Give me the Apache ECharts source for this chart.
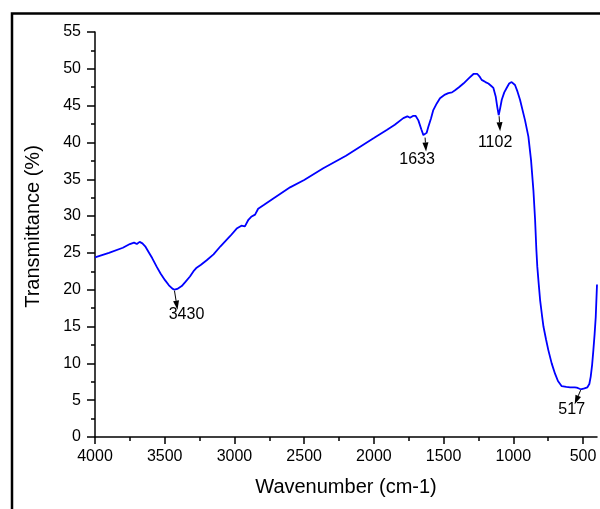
<!DOCTYPE html>
<html>
<head>
<meta charset="utf-8">
<script src="https://cdn.jsdelivr.net/npm/echarts@6/dist/echarts.min.js"></script>
<style>
  html, body { margin: 0; padding: 0; background: #fff; }
  #chart { width: 600px; height: 509px; }
</style>
</head>
<body>
<div id="chart"></div>
<script>
// wavenumber (cm-1) and transmittance (%)
var wavenumbers = [4000, 3900, 3800, 3750, 3720, 3700, 3680, 3660, 3640, 3618, 3590, 3557, 3530, 3498, 3470, 3445, 3430, 3410, 3378, 3350,
  3319, 3290, 3271, 3240, 3199, 3150, 3100, 3080, 3030, 2984, 2950, 2936, 2925, 2915, 2900, 2880, 2852, 2845, 2830, 2790,
  2721, 2673, 2601, 2500, 2363, 2200, 2076, 2000, 1908, 1850, 1789, 1760, 1741, 1720, 1700, 1681, 1660, 1645, 1633, 1622,
  1610, 1590, 1574, 1549, 1526, 1490, 1466, 1440, 1418, 1390, 1358, 1320, 1286, 1258, 1240, 1227, 1200, 1179, 1160, 1143,
  1126, 1115, 1105, 1095, 1083, 1065, 1048, 1030, 1012, 1000, 988, 970, 952, 916, 892, 873, 856, 844, 835, 828,
  818, 808, 795, 784, 765, 749, 725, 701, 680, 653, 620, 593, 560, 545, 525, 510, 490, 469, 455, 445,
  435, 426, 417, 409, 400];
var transmittance = [24.4, 25.0, 25.7, 26.2, 26.4, 26.2, 26.5, 26.3, 25.9, 25.2, 24.3, 23.1, 22.2, 21.3, 20.6, 20.15, 20.0, 20.1, 20.5, 21.1,
  21.8, 22.6, 23.0, 23.4, 24.0, 24.8, 25.9, 26.3, 27.3, 28.3, 28.7, 28.8, 28.6, 28.5, 29.5, 29.9, 30.2, 30.3, 31.0, 31.5,
  32.4, 33.0, 33.9, 34.9, 36.5, 38.2, 39.7, 40.6, 41.7, 42.4, 43.3, 43.55, 43.35, 43.6, 43.6, 43.0, 41.8, 41.0, 40.8, 41.3,
  42.1, 43.3, 44.4, 45.3, 46.0, 46.5, 46.7, 46.8, 47.1, 47.5, 48.0, 48.7, 49.3, 49.3, 48.9, 48.5, 48.2, 48.0, 47.7, 47.4,
  46.2, 44.8, 43.7, 44.6, 45.8, 46.8, 47.4, 48.0, 48.2, 48.1, 47.8, 46.9, 45.8, 43.0, 40.8, 37.6, 33.5, 29.5, 25.5, 23.1,
  20.8, 18.6, 16.6, 15.0, 13.2, 11.8, 10.0, 8.6, 7.6, 6.9, 6.8, 6.75, 6.75, 6.7, 6.55, 6.5, 6.6, 6.75, 7.2, 8.2,
  9.8, 11.8, 14.0, 16.3, 20.7];

// peak annotations
var peakNames = ['3430', '1633', '1102', '517'];
var peakWave = [3430, 1633, 1102, 517];
var peakValue = [20.0, 40.8, 43.7, 6.5];

// tick labels
var xMajorTicks = [4000, 3500, 3000, 2500, 2000, 1500, 1000, 500];
var xMinorTicks = [3750, 3250, 2750, 2250, 1750, 1250, 750];

var fontFamily = '"Liberation Sans", Arial, sans-serif';

var myChart = echarts.init(document.getElementById('chart'));

var seriesData = wavenumbers.map(function (w, i) {
  return [w, transmittance[i]];
});

var option = {
  backgroundColor: '#fff',
  animation: false,
  grid: {
    left: 95,
    right: 3,
    top: 32,
    bottom: 72
  },
  xAxis: [{
    type: 'value',
    min: 400,
    max: 4000,
    inverse: true,
    name: 'Wavenumber (cm-1)',
    nameLocation: 'middle',
    nameGap: 40,
    nameTextStyle: { fontSize: 20, color: '#000', fontFamily: fontFamily },
    splitLine: { show: false },
    axisLine: { show: true, lineStyle: { color: '#000', width: 1.5 } },
    axisTick: {
      show: true,
      customValues: xMajorTicks,
      length: 7,
      lineStyle: { color: '#000', width: 1.5 }
    },
    axisLabel: {
      customValues: xMajorTicks,
      formatter: function (v) { return String(v); },
      margin: 12,
      fontSize: 16,
      color: '#000',
      fontFamily: fontFamily
    }
  }, {
    // minor ticks only
    type: 'value',
    min: 400,
    max: 4000,
    inverse: true,
    position: 'bottom',
    splitLine: { show: false },
    axisLine: { show: false },
    axisLabel: { show: false },
    axisTick: {
      show: true,
      customValues: xMinorTicks,
      length: 4,
      lineStyle: { color: '#000', width: 1.5 }
    }
  }],
  yAxis: {
    type: 'value',
    min: 0,
    max: 55,
    interval: 5,
    name: 'Transmittance (%)',
    nameLocation: 'middle',
    nameGap: 52,
    nameTextStyle: { fontSize: 20, color: '#000', fontFamily: fontFamily, padding: [0, 0, 0, 16] },
    splitLine: { show: false },
    axisLine: { show: true, lineStyle: { color: '#000', width: 1.5 } },
    axisTick: { show: true, length: 8, lineStyle: { color: '#000', width: 1.5 } },
    minorTick: { show: true, splitNumber: 2, length: 4, lineStyle: { color: '#000', width: 1.5 } },
    axisLabel: {
      margin: 14,
      fontSize: 16,
      color: '#000',
      fontFamily: fontFamily
    }
  },
  series: [{
    type: 'line',
    data: seriesData,
    showSymbol: false,
    symbol: 'none',
    lineStyle: { color: '#0000ff', width: 1.8 },
    z: 3
  }]
};

myChart.setOption(option);

// arrows + labels under the peaks, offsets in px from the peak point
var arrowTip = [[3, 20], [1, 15], [1, 16], [-6, 15]];
var labelPos = [[12, 25], [-8, 23], [-4, 27], [-9, 20]];

function arrow(x0, y0, x1, y1) {
  var ang = Math.atan2(y1 - y0, x1 - x0);
  var len = 9, hw = 3;
  var bx = x1 - len * Math.cos(ang), by = y1 - len * Math.sin(ang);
  var px = -Math.sin(ang) * hw, py = Math.cos(ang) * hw;
  return [{
    type: 'line',
    shape: { x1: x0, y1: y0, x2: bx, y2: by },
    style: { stroke: '#000', lineWidth: 1 },
    z: 10
  }, {
    type: 'polygon',
    shape: { points: [[x1, y1], [bx + px, by + py], [bx - px, by - py]] },
    style: { fill: '#000' },
    z: 10
  }];
}

var graphics = [{
  type: 'rect',
  shape: { x: 12, y: 13.5, width: 700, height: 700 },
  style: { fill: 'none', stroke: '#000', lineWidth: 2.5 },
  silent: true,
  z: 0
}];

peakNames.forEach(function (name, i) {
  var p = myChart.convertToPixel({ xAxisIndex: 0, yAxisIndex: 0 }, [peakWave[i], peakValue[i]]);
  graphics = graphics.concat(arrow(p[0], p[1] + 1, p[0] + arrowTip[i][0], p[1] + arrowTip[i][1]));
  graphics.push({
    type: 'text',
    x: p[0] + labelPos[i][0],
    y: p[1] + labelPos[i][1],
    style: {
      text: name,
      fontSize: 16,
      fill: '#000',
      fontFamily: fontFamily,
      align: 'center',
      verticalAlign: 'middle'
    },
    z: 9
  });
});

myChart.setOption({ graphic: graphics });
</script>
</body>
</html>
